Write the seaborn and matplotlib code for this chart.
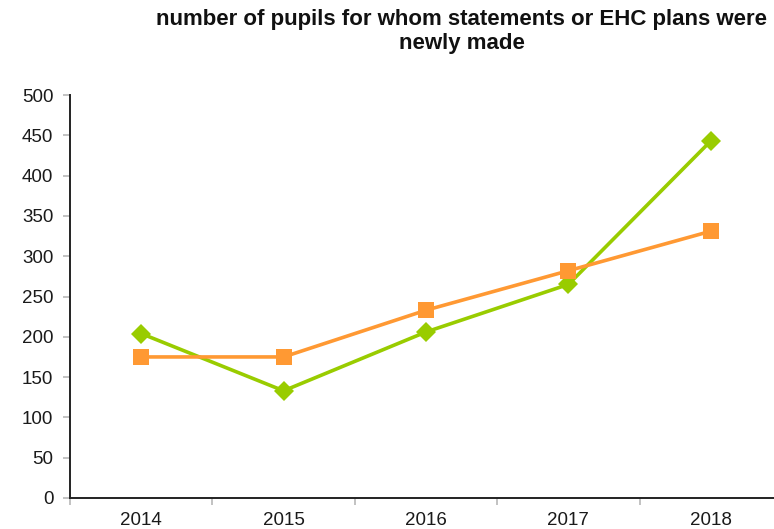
import matplotlib
matplotlib.use("Agg")
import matplotlib.pyplot as plt
import seaborn as sns
import pandas as pd
from matplotlib.ticker import FixedLocator

years = ["2014", "2015", "2016", "2017", "2018"]
green_values = [204, 133, 206, 265, 443]
orange_values = [175, 175, 233, 282, 331]
title = "number of pupils for whom statements or EHC plans were\nnewly made"

sns.set_theme(style="white")
plt.rcParams['font.family'] = ['Liberation Sans', 'DejaVu Sans']

df = pd.DataFrame({
    "year": years * 2,
    "value": green_values + orange_values,
    "series": ["green"] * len(years) + ["orange"] * len(years),
})

fig = plt.figure(figsize=(7.74, 5.29), dpi=100)
ax = fig.add_axes([70 / 774, 1 - 498 / 529, (782 - 70) / 774, (498 - 95) / 529])

sns.lineplot(data=df[df.series == "green"], x="year", y="value", ax=ax,
             color="#99CC00", linewidth=2.6, marker="D", markersize=10,
             markeredgewidth=0, sort=False)
sns.lineplot(data=df[df.series == "orange"], x="year", y="value", ax=ax,
             color="#FF9933", linewidth=2.6, marker="s", markersize=11.5,
             markeredgewidth=0, sort=False)

ax.set_xlim(-0.5, len(years) - 0.5)
ax.set_ylim(0, 500)
ax.set_yticks(range(0, 501, 50))
ax.set_xlabel("")
ax.set_ylabel("")
ax.xaxis.set_minor_locator(FixedLocator([i - 0.5 for i in range(len(years) + 1)]))
ax.tick_params(axis="x", which="major", bottom=False, length=0, pad=10,
               labelsize=13.5, labelcolor="#1a1a1a")
ax.tick_params(axis="x", which="minor", bottom=True, length=5, width=1.2,
               color="#b8b8b8", direction="out")
ax.tick_params(axis="y", which="major", left=True, length=5, width=1.2,
               color="#b8b8b8", direction="out",
               labelsize=13.5, labelcolor="#1a1a1a", pad=7)
for s in ["top", "right"]:
    ax.spines[s].set_visible(False)
for s in ["left", "bottom"]:
    ax.spines[s].set_color("#222222")
    ax.spines[s].set_linewidth(1.4)
ax.grid(False)

fig.text(462 / 774, 1 - 9 / 529, title, ha="center", va="top", fontsize=16,
         fontweight="bold", color="#111111", linespacing=1.2)

fig.savefig("out.png", dpi=100)
